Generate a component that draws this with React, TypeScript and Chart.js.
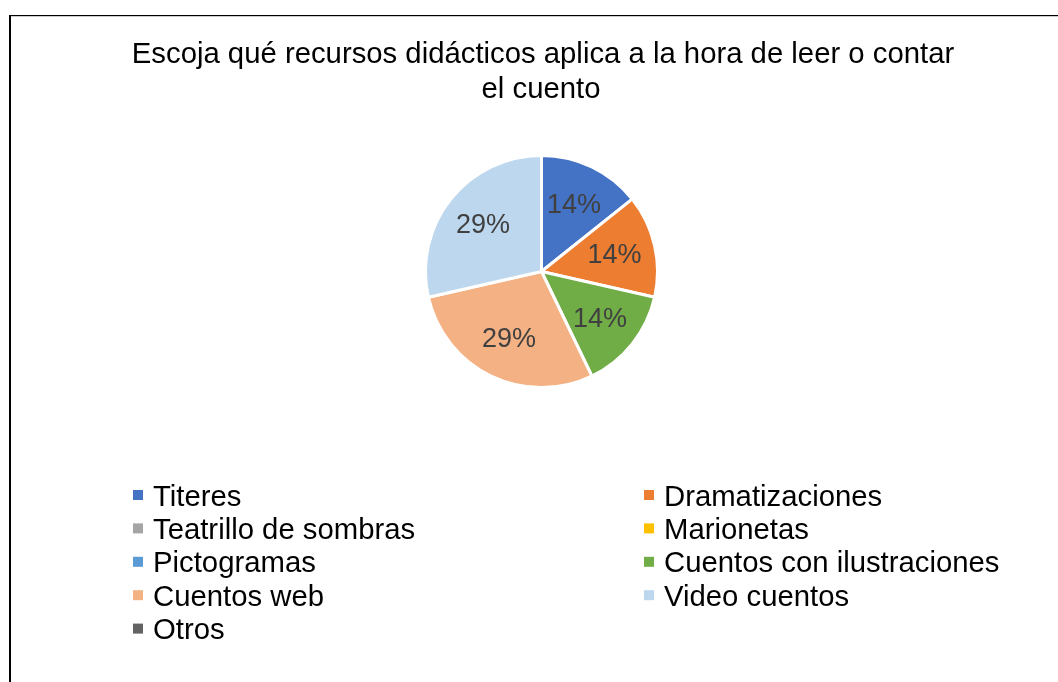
import React, { useEffect, useRef } from "react";
import { Chart, registerables } from "chart.js";

Chart.register(...registerables);

const titleLines = [
  "Escoja qué recursos didácticos aplica a la hora de leer o contar",
  "el cuento",
];
const categories = [
  "Titeres",
  "Dramatizaciones",
  "Teatrillo de sombras",
  "Marionetas",
  "Pictogramas",
  "Cuentos con ilustraciones",
  "Cuentos web",
  "Video cuentos",
  "Otros",
];
const counts = [1, 1, 0, 0, 0, 1, 2, 2, 0];
const colors = [
  "#4472C4",
  "#ED7D31",
  "#A5A5A5",
  "#FFC000",
  "#5B9BD5",
  "#70AD47",
  "#F4B183",
  "#BDD7EE",
  "#636363",
];

const FONT = "'Liberation Sans', Arial, sans-serif";

const decorPlugin = {
  id: "decor",
  afterDraw(chart: any) {
    const ctx = chart.ctx as CanvasRenderingContext2D;
    ctx.save();
    // outer frame
    ctx.fillStyle = "#000000";
    ctx.fillRect(9, 15, 2, 700);
    ctx.fillRect(9, 15, 1100, 1.2);

    // title
    ctx.fillStyle = "#000000";
    ctx.font = `29.3px ${FONT}`;
    ctx.textAlign = "center";
    ctx.textBaseline = "alphabetic";
    ctx.fillText(titleLines[0], 543, 62.5);
    ctx.fillText(titleLines[1], 541, 97.5);

    // data labels
    const meta = chart.getDatasetMeta(0);
    const data = chart.data.datasets[0].data as number[];
    const total = data.reduce((a: number, b: number) => a + b, 0);
    ctx.font = `27px ${FONT}`;
    ctx.fillStyle = "#404040";
    ctx.textAlign = "center";
    ctx.textBaseline = "middle";
    meta.data.forEach((arc: any, i: number) => {
      const v = data[i];
      if (!v) return;
      const p = arc.getProps(["x", "y", "startAngle", "endAngle", "outerRadius"], true);
      const mid = (p.startAngle + p.endAngle) / 2;
      const r = p.outerRadius * 0.645;
      const x = p.x + Math.cos(mid) * r;
      const y = p.y + Math.sin(mid) * r;
      ctx.fillText(Math.round((v / total) * 100) + "%", x, y + 1);
    });

    // legend (two columns)
    const labels = chart.data.labels as string[];
    const bg = chart.data.datasets[0].backgroundColor as string[];
    ctx.font = `29.3px ${FONT}`;
    ctx.textAlign = "left";
    ctx.textBaseline = "alphabetic";
    const colX = [133, 644];
    const rowY0 = 495;
    const rowH = 33.4;
    labels.forEach((lab, i) => {
      const col = i % 2;
      const row = Math.floor(i / 2);
      const cy = rowY0 + row * rowH;
      const bx = colX[col];
      ctx.fillStyle = bg[i];
      ctx.fillRect(bx, cy - 5, 10, 10);
      ctx.fillStyle = "#000000";
      ctx.fillText(lab, bx + 20, cy + 10.5);
    });
    ctx.restore();
  },
};

export default function App() {
  const ref = useRef<HTMLCanvasElement | null>(null);
  useEffect(() => {
    if (!ref.current) return;
    const chart = new Chart(ref.current, {
      type: "pie",
      data: {
        labels: categories,
        datasets: [
          {
            data: counts,
            backgroundColor: colors,
            borderColor: "#FFFFFF",
            borderWidth: 3,
          },
        ],
      },
      options: {
        responsive: false,
        animation: false,
        devicePixelRatio: 1,
        layout: { padding: { left: 424, top: 154, right: 399, bottom: 293 } },
        plugins: {
          legend: { display: false },
          title: { display: false },
          tooltip: { enabled: false },
        },
      },
      plugins: [decorPlugin],
    });
    return () => chart.destroy();
  }, []);
  return (
    <div style={{ position: "absolute", left: 0, top: 0, width: 1058, height: 682, background: "#fff" }}>
      <canvas ref={ref} width={1058} height={682} style={{ display: "block" }} />
    </div>
  );
}
